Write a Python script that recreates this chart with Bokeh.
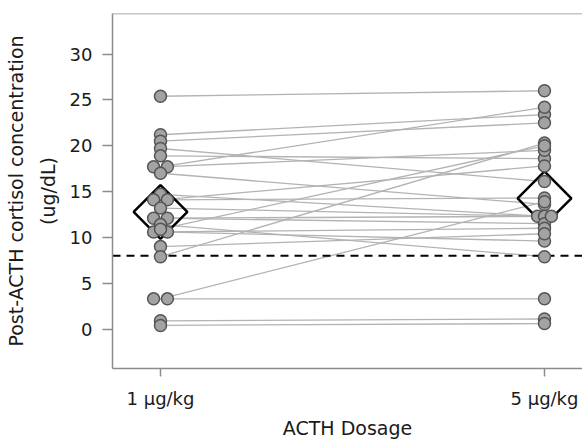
import numpy as np
from bokeh.plotting import figure
from bokeh.models import Range1d, FixedTicker, Span
from bokeh.embed import file_html
from bokeh.resources import INLINE

# ---- data ----
categories = ["1 µg/kg", "5 µg/kg"]
dose_1 = [25.4, 21.2, 20.5, 19.7, 18.9, 17.7, 17.7, 17.0, 14.7, 14.1, 14.1, 13.2,
          12.1, 12.1, 11.4, 10.6, 10.6, 9.0, 7.9, 3.3, 3.3, 0.9, 0.4, 10.9]
dose_5 = [26.0, 23.4, 22.5, 16.1, 18.6, 24.2, 19.5, 13.6, 12.3, 14.3, 17.8, 12.3,
          11.5, 12.3, 7.9, 11.0, 9.6, 10.4, 20.3, 13.9, 3.3, 1.1, 0.6, 20.0]
cutoff = 8
y_ticks = [0, 5, 10, 15, 20, 25, 30]
x_title = "ACTH Dosage"
y_title = "Post-ACTH cortisol concentration\n(ug/dL)"

FONT = "DejaVu Sans"
AXIS_GRAY = "#8c8c8c"
TEXT = "#1a1a1a"

xr = Range1d(-0.125, 1.099)
yr = Range1d(-4.3, 34.43)

p = figure(width=582, height=441, output_backend="svg", toolbar_location=None,
           x_range=xr, y_range=yr,
           min_border_left=112, min_border_right=0, min_border_top=13,
           min_border_bottom=70)
p.outline_line_color = None
p.grid.visible = False
p.background_fill_color = "white"

# connecting lines
xs = [[0, 1] for _ in dose_1]
ys = [[a, b] for a, b in zip(dose_1, dose_5)]
p.multi_line(xs=xs, ys=ys, line_color="#b3b3b3", line_width=1.3)

# cutoff dashed line
p.segment(x0=[xr.start], x1=[xr.end], y0=[cutoff], y1=[cutoff],
          line_color="black", line_width=2, line_dash="8 6")

# means (diamonds)
means = [float(np.mean(dose_1)), float(np.mean(dose_5))]
p.scatter(x=[0, 1], y=means, marker="square", angle=np.pi / 4, size=38,
          fill_color=None, line_color="black", line_width=2.5)

# points, duplicates spread side by side
SPREAD = 0.018


def spread_positions(values, center):
    out = []
    counts = {}
    for v in values:
        counts[v] = counts.get(v, 0) + 1
    seen = {}
    for v in values:
        n = counts[v]
        i = seen.get(v, 0)
        seen[v] = i + 1
        off = 0.0 if n == 1 else -SPREAD + 2 * SPREAD * i / (n - 1)
        out.append(center + off)
    return out


for idx, vals in enumerate([dose_1, dose_5]):
    px = spread_positions(vals, idx)
    p.scatter(x=px, y=vals, size=12, fill_color="#a3a3a3",
              line_color="#555555", line_width=1.5)

# top border
p.add_layout(Span(location=yr.end, dimension="width", line_color=AXIS_GRAY,
                  line_width=1.5))

# axes
p.xaxis.ticker = FixedTicker(ticks=[0, 1])
p.xaxis.major_label_overrides = {0: categories[0], 1: categories[1]}
p.yaxis.ticker = FixedTicker(ticks=y_ticks)
p.xaxis.axis_label = x_title
p.yaxis.axis_label = y_title

for ax in (p.xaxis, p.yaxis):
    ax.axis_line_color = AXIS_GRAY
    ax.axis_line_width = 1.5
    ax.major_tick_line_color = AXIS_GRAY
    ax.major_tick_line_width = 1.5
    ax.major_tick_in = 0
    ax.minor_tick_line_color = None
    ax.major_label_text_font = FONT
    ax.major_label_text_font_size = "18px"
    ax.major_label_text_color = TEXT
    ax.axis_label_text_font = FONT
    ax.axis_label_text_font_style = "normal"
    ax.axis_label_text_color = TEXT

p.yaxis.major_tick_out = 10
p.yaxis.major_label_standoff = 10
p.yaxis.axis_label_standoff = 8
p.yaxis.axis_label_text_font_size = "19px"
p.yaxis.axis_label_text_line_height = 1.45

p.xaxis.major_tick_out = 8
p.xaxis.major_label_standoff = 11
p.xaxis.axis_label_standoff = 5
p.xaxis.axis_label_text_font_size = "19px"

open("out.html", "w").write(file_html(p, INLINE))
